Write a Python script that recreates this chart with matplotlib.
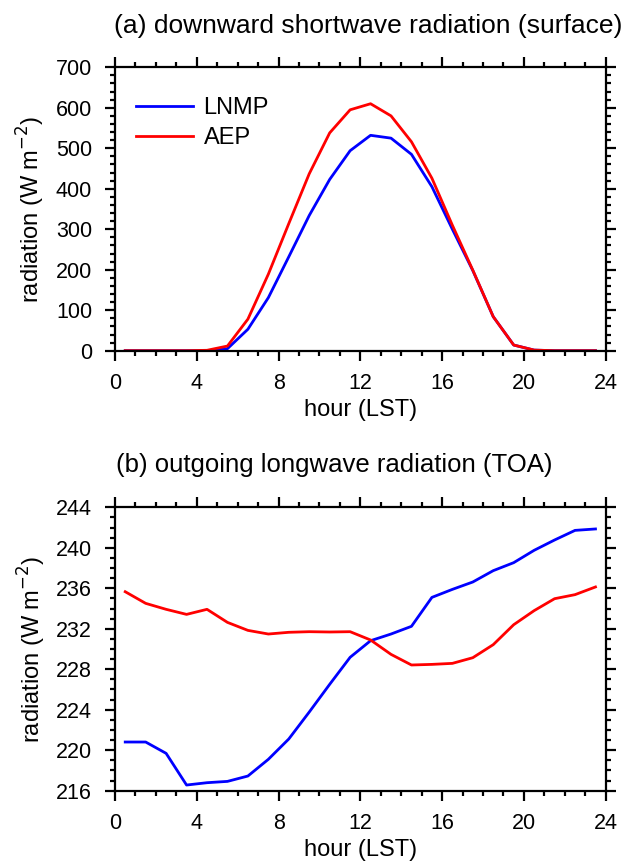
import matplotlib
matplotlib.use("Agg")
import matplotlib.pyplot as plt
from matplotlib.ticker import MultipleLocator
import numpy as np

plt.rcParams['font.family'] = ['Liberation Sans', 'DejaVu Sans']

hours = [0.5, 1.5, 2.5, 3.5, 4.5, 5.5, 6.5, 7.5, 8.5, 9.5, 10.5, 11.5,
         12.5, 13.5, 14.5, 15.5, 16.5, 17.5, 18.5, 19.5, 20.5, 21.5, 22.5, 23.5]

sw_lnmp = [0, 0, 0, 0, 0, 5, 53, 131, 232, 334, 423, 494,
           532, 525, 485, 405, 300, 198, 84, 14, 1.5, 0, 0, 0]
sw_aep = [0, 0, 0, 0, 1, 11.5, 78, 189, 314, 437, 538, 595,
          610, 580, 516, 426, 310, 199, 84, 14, 1.5, 0, 0, 0]

olr_lnmp = [220.81, 220.81, 219.69, 216.56, 216.79, 216.92, 217.45, 219.10,
            221.11, 223.77, 226.51, 229.18, 230.82, 231.48, 232.24, 235.10,
            235.89, 236.62, 237.74, 238.53, 239.75, 240.77, 241.72, 241.86]
olr_aep = [235.66, 234.51, 233.92, 233.42, 233.92, 232.63, 231.84, 231.48,
           231.65, 231.71, 231.68, 231.71, 230.89, 229.47, 228.42, 228.48,
           228.58, 229.14, 230.43, 232.40, 233.79, 234.97, 235.37, 236.13]

W, H = 639, 868
fig = plt.figure(figsize=(W / 100, H / 100), dpi=100)

def frac(l, t, r, b):
    return [l / W, 1 - b / H, (r - l) / W, (b - t) / H]

ax1 = fig.add_axes(frac(115, 67.3, 605.7, 350.7))
ax2 = fig.add_axes(frac(115, 507.3, 605.7, 790.7))

lw_line = 2.0
lw_ax = 1.6
for ax in (ax1, ax2):
    for s in ax.spines.values():
        s.set_linewidth(lw_ax)
    ax.tick_params(which='both', direction='out', top=True, right=True,
                   width=lw_ax, labelsize=15.5)
    ax.tick_params(which='major', length=7.5)
    ax.tick_params(which='minor', length=3.6)
    ax.tick_params(axis='x', which='major', pad=8.5)
    ax.tick_params(axis='y', which='major', pad=9)
    ax.set_xlim(0, 24)
    ax.xaxis.set_major_locator(MultipleLocator(4))
    ax.xaxis.set_minor_locator(MultipleLocator(1))
    ax.set_xlabel('hour (LST)', fontsize=17, labelpad=4)
    ax.set_ylabel('radiation (W m$^{-2}$)', fontsize=17, labelpad=6)

ax1.plot(hours, sw_lnmp, color='#0000ff', lw=lw_line, label='LNMP')
ax1.plot(hours, sw_aep, color='#ff0000', lw=lw_line, label='AEP')
ax1.set_ylim(0, 700)
ax1.yaxis.set_major_locator(MultipleLocator(100))
ax1.yaxis.set_minor_locator(MultipleLocator(20))
ax1.legend(loc='upper left', bbox_to_anchor=(0.0, 0.97), frameon=False,
           fontsize=17, handlelength=2.4, handletextpad=0.45, labelspacing=0.35)

ax2.plot(hours, olr_lnmp, color='#0000ff', lw=lw_line)
ax2.plot(hours, olr_aep, color='#ff0000', lw=lw_line)
ax2.set_ylim(216, 244)
ax2.yaxis.set_major_locator(MultipleLocator(4))
ax2.yaxis.set_minor_locator(MultipleLocator(1))

fig.text(114 / W, 1 - 26 / H, '(a) downward shortwave radiation (surface)',
         ha='left', va='center', fontsize=19)
fig.text(116 / W, 1 - 465 / H, '(b) outgoing longwave radiation (TOA)',
         ha='left', va='center', fontsize=18.5)

fig.savefig('out.png', dpi=100)
